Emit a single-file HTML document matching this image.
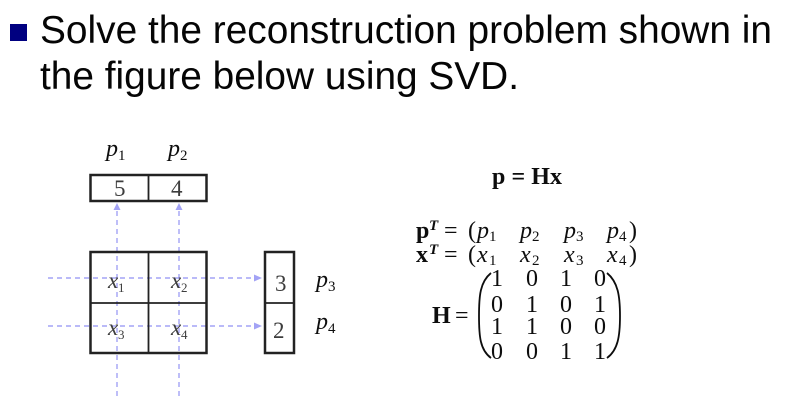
<!DOCTYPE html>
<html><head><meta charset="utf-8"><style>
html,body{margin:0;padding:0;background:#fff}
svg{display:block}
text{font-family:"Liberation Serif",serif;fill:#0c0c0c}
.t{font-family:"Liberation Sans",sans-serif;font-size:38.5px;fill:#050505}
.i{font-style:italic}
.b{font-weight:bold}
.s{font-size:15px}
.u{font-size:13px}
.g{fill:#3c3c3c}
</style></head><body>
<svg width="800" height="408" viewBox="0 0 800 408" xmlns="http://www.w3.org/2000/svg">
<defs><filter id="bl" x="-5%" y="-5%" width="110%" height="110%"><feGaussianBlur stdDeviation="0.35"/></filter></defs>
<rect width="800" height="408" fill="#fff"/>
<rect x="10" y="24" width="17" height="17" fill="#000080"/>
<text class="t" x="40" y="43" textLength="732" lengthAdjust="spacingAndGlyphs">Solve the reconstruction problem shown in</text>
<text class="t" x="40" y="89" textLength="479" lengthAdjust="spacingAndGlyphs">the figure below using SVD.</text>
<g filter="url(#bl)">
<g stroke="#a3a3f5" stroke-width="1.400" stroke-dasharray="5 4" fill="none">
<path d="M117 396V207M179 396V207M48 278H256M48 326H256"/>
</g>
<g fill="#a3a3f5">
<path d="M117 203l-3.500 7h7zM179 203l-3.500 7h7zM262 278l-8-3.500v7zM262 326l-8-3.500v7z"/>
</g>
<g stroke="#222" fill="none">
<rect x="90.500" y="175" width="116" height="26" stroke-width="2.500"/>
<path d="M148.500 175V201" stroke-width="1.800"/>
<rect x="90.500" y="252" width="116" height="101" stroke-width="2.500"/>
<path d="M148.500 252V353M90 303H206" stroke-width="1.800"/>
<rect x="265" y="252" width="29" height="101" stroke-width="2.500"/>
<path d="M265 303H294" stroke-width="1.800"/>
</g>
<g class="g" font-size="23">
<text x="114" y="196" class="g">5</text><text x="171" y="196" class="g">4</text>
<text x="275" y="291" class="g">3</text><text x="273" y="338" class="g">2</text>
</g>
<g>
<text class="i g" x="108" y="288" font-size="23">x</text><text class="g u" x="118" y="292">1</text>
<text class="i g" x="171" y="288" font-size="23">x</text><text class="g u" x="181" y="292">2</text>
<text class="i g" x="108" y="335" font-size="23">x</text><text class="g u" x="118" y="339">3</text>
<text class="i g" x="171" y="335" font-size="23">x</text><text class="g u" x="181" y="339">4</text>
</g>
<g font-size="24">
<text class="i" x="106" y="156">p</text><text class="s" x="118" y="160">1</text>
<text class="i" x="168" y="156">p</text><text class="s" x="180" y="160">2</text>
<text class="i" x="316" y="287">p</text><text class="s" x="328" y="291">3</text>
<text class="i" x="316" y="329">p</text><text class="s" x="328" y="333">4</text>
</g>
<text class="b" x="492" y="184" font-size="24" textLength="70" lengthAdjust="spacing">p = Hx</text>
<g font-size="24">
<text class="b" x="416" y="238">p</text><text class="b i" x="429" y="230" font-size="15">T</text><text x="444" y="238">=</text><text x="468" y="238">(</text>
<text class="i" x="477" y="238">p</text><text class="s" x="489" y="241">1</text>
<text class="i" x="520" y="238">p</text><text class="s" x="532" y="241">2</text>
<text class="i" x="564" y="238">p</text><text class="s" x="576" y="241">3</text>
<text class="i" x="607" y="238">p</text><text class="s" x="619" y="241">4</text><text x="629" y="238">)</text>
<text class="b" x="416" y="262">x</text><text class="b i" x="429" y="254" font-size="15">T</text><text x="444" y="262">=</text><text x="468" y="262">(</text>
<text class="i" x="477" y="262">x</text><text class="s" x="489" y="265">1</text>
<text class="i" x="520" y="262">x</text><text class="s" x="532" y="265">2</text>
<text class="i" x="564" y="262">x</text><text class="s" x="576" y="265">3</text>
<text class="i" x="607" y="262">x</text><text class="s" x="619" y="265">4</text><text x="629" y="262">)</text>
<text class="b" x="432" y="323">H</text><text x="455" y="323">=</text>
</g>
<g font-size="24" text-anchor="middle">
<text x="497" y="286">1</text><text x="532" y="286">0</text><text x="566" y="286">1</text><text x="600" y="286">0</text>
<text x="497" y="312">0</text><text x="532" y="312">1</text><text x="566" y="312">0</text><text x="600" y="312">1</text>
<text x="497" y="334">1</text><text x="532" y="334">1</text><text x="566" y="334">0</text><text x="600" y="334">0</text>
<text x="497" y="359">0</text><text x="532" y="359">0</text><text x="566" y="359">1</text><text x="600" y="359">1</text>
</g>
<g fill="none" stroke="#111" stroke-width="1.800">
<path d="M491 273C480 282 479 296 479 316C479 336 480 350 491 358"/>
<path d="M607 273C618 282 620 296 620 316C620 336 618 350 607 358"/>
</g>
</g>
</svg>
</body></html>
